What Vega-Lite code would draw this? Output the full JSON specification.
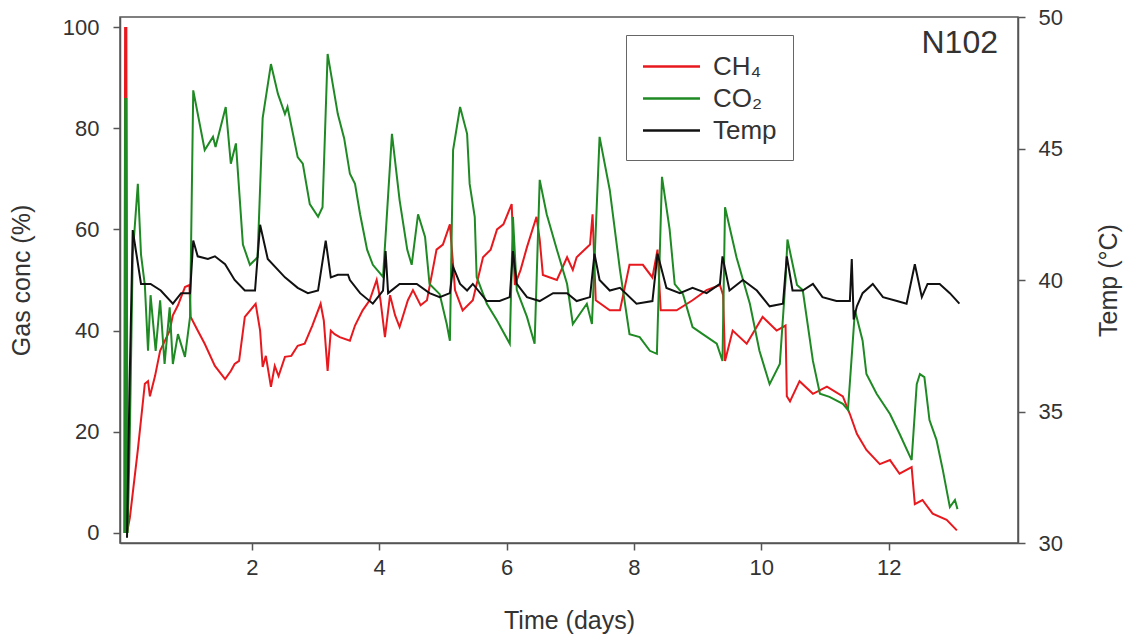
{
  "$schema": "https://vega.github.io/schema/vega-lite/v6.json",
  "width": 898,
  "height": 526,
  "autosize": {"type": "none"},
  "padding": {"left": 120, "top": 17, "right": 113, "bottom": 94},
  "background": "white",
  "config": {
    "view": {"stroke": "#555", "strokeWidth": 1.5},
    "font": "Liberation Sans",
    "axis": {
      "domainColor": "#555", "domainWidth": 1.5, "tickColor": "#555", "tickWidth": 1.5, "tickSize": 7,
      "labelFont": "Liberation Sans", "labelFontSize": 22, "labelColor": "#333",
      "titleFont": "Liberation Sans", "titleFontSize": 25, "titleFontWeight": "normal", "titleColor": "#333",
      "grid": false
    }
  },
  "title": {"text": "N102", "anchor": "end", "frame": "group", "orient": "top", "offset": -54, "dx": -20, "fontSize": 32, "fontWeight": "normal", "color": "#333", "font": "Liberation Sans"},
  "datasets": {
    "gas": [
      {"t":0.00,"s":"CH₄","v":0},{"t":0.01,"s":"CH₄","v":100},{"t":0.02,"s":"CH₄","v":2},{"t":0.03,"s":"CH₄","v":100},{"t":0.04,"s":"CH₄","v":0},
      {"t":0.085,"s":"CH₄","v":3},{"t":0.21,"s":"CH₄","v":16.4},{"t":0.32,"s":"CH₄","v":29.5},{"t":0.37,"s":"CH₄","v":30},{"t":0.40,"s":"CH₄","v":27},
      {"t":0.48,"s":"CH₄","v":31},{"t":0.56,"s":"CH₄","v":36},{"t":0.71,"s":"CH₄","v":40},{"t":0.76,"s":"CH₄","v":43},{"t":0.84,"s":"CH₄","v":45},
      {"t":0.95,"s":"CH₄","v":48.6},{"t":1.02,"s":"CH₄","v":49},{"t":1.04,"s":"CH₄","v":42.7},{"t":1.15,"s":"CH₄","v":40},{"t":1.26,"s":"CH₄","v":37.4},
      {"t":1.42,"s":"CH₄","v":33},{"t":1.58,"s":"CH₄","v":30.4},{"t":1.67,"s":"CH₄","v":32},{"t":1.73,"s":"CH₄","v":33.4},{"t":1.80,"s":"CH₄","v":34},
      {"t":1.89,"s":"CH₄","v":42.7},{"t":2.06,"s":"CH₄","v":45.3},{"t":2.13,"s":"CH₄","v":40},{"t":2.17,"s":"CH₄","v":32.8},{"t":2.22,"s":"CH₄","v":35},
      {"t":2.30,"s":"CH₄","v":28.9},{"t":2.36,"s":"CH₄","v":33},{"t":2.42,"s":"CH₄","v":31},{"t":2.52,"s":"CH₄","v":34.8},{"t":2.62,"s":"CH₄","v":35},
      {"t":2.72,"s":"CH₄","v":37},{"t":2.83,"s":"CH₄","v":37.4},{"t":2.95,"s":"CH₄","v":41},{"t":3.08,"s":"CH₄","v":45.3},{"t":3.13,"s":"CH₄","v":42},
      {"t":3.19,"s":"CH₄","v":32},{"t":3.24,"s":"CH₄","v":40},{"t":3.30,"s":"CH₄","v":39.3},{"t":3.38,"s":"CH₄","v":38.7},{"t":3.54,"s":"CH₄","v":38},
      {"t":3.62,"s":"CH₄","v":41},{"t":3.74,"s":"CH₄","v":44},{"t":3.85,"s":"CH₄","v":46},{"t":3.96,"s":"CH₄","v":50},{"t":4.02,"s":"CH₄","v":46},
      {"t":4.09,"s":"CH₄","v":38.7},{"t":4.17,"s":"CH₄","v":47},{"t":4.25,"s":"CH₄","v":43},{"t":4.32,"s":"CH₄","v":40.7},{"t":4.45,"s":"CH₄","v":46},
      {"t":4.53,"s":"CH₄","v":48},{"t":4.65,"s":"CH₄","v":45},{"t":4.75,"s":"CH₄","v":46},{"t":4.90,"s":"CH₄","v":56},{"t":5.00,"s":"CH₄","v":57},
      {"t":5.11,"s":"CH₄","v":61},{"t":5.16,"s":"CH₄","v":53},{"t":5.19,"s":"CH₄","v":48},{"t":5.31,"s":"CH₄","v":44},{"t":5.47,"s":"CH₄","v":46},
      {"t":5.63,"s":"CH₄","v":54.5},{"t":5.75,"s":"CH₄","v":56},{"t":5.85,"s":"CH₄","v":60},{"t":5.95,"s":"CH₄","v":61},{"t":6.08,"s":"CH₄","v":65},
      {"t":6.11,"s":"CH₄","v":55},{"t":6.13,"s":"CH₄","v":49},{"t":6.22,"s":"CH₄","v":52},{"t":6.32,"s":"CH₄","v":56.5},{"t":6.47,"s":"CH₄","v":62.5},
      {"t":6.52,"s":"CH₄","v":58},{"t":6.57,"s":"CH₄","v":51},{"t":6.79,"s":"CH₄","v":50},{"t":6.95,"s":"CH₄","v":54.5},{"t":7.04,"s":"CH₄","v":52},
      {"t":7.10,"s":"CH₄","v":54.5},{"t":7.31,"s":"CH₄","v":57},{"t":7.35,"s":"CH₄","v":63},{"t":7.40,"s":"CH₄","v":46},{"t":7.62,"s":"CH₄","v":44},
      {"t":7.78,"s":"CH₄","v":44},{"t":7.93,"s":"CH₄","v":53},{"t":8.14,"s":"CH₄","v":53},{"t":8.29,"s":"CH₄","v":50.5},{"t":8.37,"s":"CH₄","v":56},
      {"t":8.42,"s":"CH₄","v":44},{"t":8.67,"s":"CH₄","v":44},{"t":8.92,"s":"CH₄","v":46},{"t":9.14,"s":"CH₄","v":48},{"t":9.35,"s":"CH₄","v":49},
      {"t":9.40,"s":"CH₄","v":47},{"t":9.43,"s":"CH₄","v":34},{"t":9.55,"s":"CH₄","v":40},{"t":9.77,"s":"CH₄","v":37.4},{"t":10.02,"s":"CH₄","v":42.7},
      {"t":10.24,"s":"CH₄","v":40},{"t":10.38,"s":"CH₄","v":41},{"t":10.40,"s":"CH₄","v":27},{"t":10.45,"s":"CH₄","v":26},{"t":10.60,"s":"CH₄","v":30},
      {"t":10.81,"s":"CH₄","v":27.5},{"t":11.03,"s":"CH₄","v":28.9},{"t":11.28,"s":"CH₄","v":27},{"t":11.39,"s":"CH₄","v":23.5},{"t":11.50,"s":"CH₄","v":19.6},
      {"t":11.65,"s":"CH₄","v":16.4},{"t":11.86,"s":"CH₄","v":13.6},{"t":12.02,"s":"CH₄","v":14.4},{"t":12.17,"s":"CH₄","v":11.7},{"t":12.36,"s":"CH₄","v":13},
      {"t":12.41,"s":"CH₄","v":5.7},{"t":12.53,"s":"CH₄","v":6.5},{"t":12.69,"s":"CH₄","v":3.8},{"t":12.91,"s":"CH₄","v":2.6},{"t":13.07,"s":"CH₄","v":0.5},

      {"t":0.00,"s":"CO₂","v":0},{"t":0.01,"s":"CO₂","v":86},{"t":0.02,"s":"CO₂","v":0},{"t":0.03,"s":"CO₂","v":86},{"t":0.05,"s":"CO₂","v":0},
      {"t":0.085,"s":"CO₂","v":20},{"t":0.13,"s":"CO₂","v":55},{"t":0.21,"s":"CO₂","v":69},{"t":0.26,"s":"CO₂","v":55},{"t":0.32,"s":"CO₂","v":49},
      {"t":0.37,"s":"CO₂","v":36},{"t":0.41,"s":"CO₂","v":47},{"t":0.49,"s":"CO₂","v":36},{"t":0.56,"s":"CO₂","v":46},{"t":0.63,"s":"CO₂","v":33.4},
      {"t":0.71,"s":"CO₂","v":44.6},{"t":0.76,"s":"CO₂","v":33.4},{"t":0.84,"s":"CO₂","v":39.3},{"t":0.95,"s":"CO₂","v":34.8},{"t":1.03,"s":"CO₂","v":42.7},
      {"t":1.08,"s":"CO₂","v":87.5},{"t":1.26,"s":"CO₂","v":75.7},{"t":1.39,"s":"CO₂","v":78.3},{"t":1.43,"s":"CO₂","v":76.3},{"t":1.59,"s":"CO₂","v":84.2},
      {"t":1.67,"s":"CO₂","v":73},{"t":1.75,"s":"CO₂","v":77},{"t":1.86,"s":"CO₂","v":57},{"t":1.97,"s":"CO₂","v":53},{"t":2.09,"s":"CO₂","v":54.5},
      {"t":2.17,"s":"CO₂","v":82},{"t":2.30,"s":"CO₂","v":92.7},{"t":2.41,"s":"CO₂","v":86.8},{"t":2.52,"s":"CO₂","v":82.8},{"t":2.56,"s":"CO₂","v":84.2},
      {"t":2.72,"s":"CO₂","v":74.3},{"t":2.80,"s":"CO₂","v":73},{"t":2.91,"s":"CO₂","v":65},{"t":3.04,"s":"CO₂","v":62.5},{"t":3.11,"s":"CO₂","v":64.4},
      {"t":3.19,"s":"CO₂","v":94.7},{"t":3.35,"s":"CO₂","v":82.8},{"t":3.45,"s":"CO₂","v":78},{"t":3.54,"s":"CO₂","v":71},{"t":3.62,"s":"CO₂","v":69},
      {"t":3.70,"s":"CO₂","v":63},{"t":3.81,"s":"CO₂","v":56},{"t":3.90,"s":"CO₂","v":53},{"t":4.06,"s":"CO₂","v":50.6},{"t":4.20,"s":"CO₂","v":78.9},
      {"t":4.32,"s":"CO₂","v":65.8},{"t":4.44,"s":"CO₂","v":56},{"t":4.51,"s":"CO₂","v":53},{"t":4.61,"s":"CO₂","v":63},{"t":4.72,"s":"CO₂","v":58.5},
      {"t":4.79,"s":"CO₂","v":49.2},{"t":4.95,"s":"CO₂","v":47.2},{"t":5.06,"s":"CO₂","v":41.3},{"t":5.11,"s":"CO₂","v":38},{"t":5.16,"s":"CO₂","v":75.7},
      {"t":5.27,"s":"CO₂","v":84.2},{"t":5.38,"s":"CO₂","v":78.9},{"t":5.42,"s":"CO₂","v":69},{"t":5.50,"s":"CO₂","v":62.5},{"t":5.53,"s":"CO₂","v":50.6},
      {"t":5.69,"s":"CO₂","v":45.3},{"t":5.85,"s":"CO₂","v":42},{"t":6.05,"s":"CO₂","v":37.4},{"t":6.10,"s":"CO₂","v":62.5},{"t":6.16,"s":"CO₂","v":48},
      {"t":6.32,"s":"CO₂","v":42.7},{"t":6.44,"s":"CO₂","v":37.4},{"t":6.52,"s":"CO₂","v":69.8},{"t":6.63,"s":"CO₂","v":63},{"t":6.79,"s":"CO₂","v":56},
      {"t":6.95,"s":"CO₂","v":49.2},{"t":7.04,"s":"CO₂","v":41.3},{"t":7.26,"s":"CO₂","v":45.3},{"t":7.34,"s":"CO₂","v":41.3},{"t":7.46,"s":"CO₂","v":78.3},
      {"t":7.62,"s":"CO₂","v":67.8},{"t":7.78,"s":"CO₂","v":52},{"t":7.93,"s":"CO₂","v":39.3},{"t":8.09,"s":"CO₂","v":38.7},{"t":8.25,"s":"CO₂","v":36},
      {"t":8.36,"s":"CO₂","v":35.4},{"t":8.44,"s":"CO₂","v":70.4},{"t":8.56,"s":"CO₂","v":60},{"t":8.64,"s":"CO₂","v":49.2},{"t":8.77,"s":"CO₂","v":47.2},
      {"t":8.92,"s":"CO₂","v":40.7},{"t":9.08,"s":"CO₂","v":39.3},{"t":9.30,"s":"CO₂","v":37.4},{"t":9.39,"s":"CO₂","v":34},{"t":9.43,"s":"CO₂","v":64.4},
      {"t":9.61,"s":"CO₂","v":54.5},{"t":9.82,"s":"CO₂","v":45.3},{"t":9.97,"s":"CO₂","v":36},{"t":10.13,"s":"CO₂","v":29.4},{"t":10.29,"s":"CO₂","v":33.4},
      {"t":10.38,"s":"CO₂","v":50},{"t":10.41,"s":"CO₂","v":58},{"t":10.56,"s":"CO₂","v":49},{"t":10.65,"s":"CO₂","v":48},{"t":10.81,"s":"CO₂","v":34},
      {"t":10.92,"s":"CO₂","v":27.5},{"t":11.07,"s":"CO₂","v":26.9},{"t":11.28,"s":"CO₂","v":25.5},{"t":11.36,"s":"CO₂","v":24.3},{"t":11.47,"s":"CO₂","v":44},
      {"t":11.59,"s":"CO₂","v":38},{"t":11.65,"s":"CO₂","v":31.4},{"t":11.81,"s":"CO₂","v":27.5},{"t":12.02,"s":"CO₂","v":23.5},{"t":12.17,"s":"CO₂","v":19.6},
      {"t":12.36,"s":"CO₂","v":14.4},{"t":12.44,"s":"CO₂","v":29.4},{"t":12.49,"s":"CO₂","v":31.4},{"t":12.56,"s":"CO₂","v":30.8},{"t":12.64,"s":"CO₂","v":22.3},
      {"t":12.75,"s":"CO₂","v":18.4},{"t":12.85,"s":"CO₂","v":12.4},{"t":12.96,"s":"CO₂","v":5.1},{"t":13.04,"s":"CO₂","v":6.5},{"t":13.08,"s":"CO₂","v":4.7}
    ],
    "temp": [
      {"t":0.04,"s":"Temp","v":30.2},{"t":0.08,"s":"Temp","v":36},{"t":0.13,"s":"Temp","v":41.9},{"t":0.26,"s":"Temp","v":39.85},{"t":0.41,"s":"Temp","v":39.85},
      {"t":0.57,"s":"Temp","v":39.6},{"t":0.76,"s":"Temp","v":39.1},{"t":0.89,"s":"Temp","v":39.5},{"t":1.03,"s":"Temp","v":39.5},{"t":1.08,"s":"Temp","v":41.5},
      {"t":1.15,"s":"Temp","v":40.9},{"t":1.31,"s":"Temp","v":40.8},{"t":1.42,"s":"Temp","v":40.9},{"t":1.58,"s":"Temp","v":40.6},{"t":1.73,"s":"Temp","v":40},
      {"t":1.89,"s":"Temp","v":39.6},{"t":2.05,"s":"Temp","v":39.6},{"t":2.13,"s":"Temp","v":42.1},{"t":2.25,"s":"Temp","v":40.8},{"t":2.52,"s":"Temp","v":40.1},
      {"t":2.72,"s":"Temp","v":39.7},{"t":2.88,"s":"Temp","v":39.5},{"t":3.04,"s":"Temp","v":39.6},{"t":3.16,"s":"Temp","v":41.5},{"t":3.24,"s":"Temp","v":40.1},
      {"t":3.35,"s":"Temp","v":40.2},{"t":3.51,"s":"Temp","v":40.2},{"t":3.54,"s":"Temp","v":40},{"t":3.70,"s":"Temp","v":39.5},{"t":3.90,"s":"Temp","v":39.1},
      {"t":4.06,"s":"Temp","v":39.6},{"t":4.10,"s":"Temp","v":41.1},{"t":4.14,"s":"Temp","v":39.5},{"t":4.32,"s":"Temp","v":39.85},{"t":4.59,"s":"Temp","v":39.85},
      {"t":4.79,"s":"Temp","v":39.5},{"t":4.95,"s":"Temp","v":39.35},{"t":5.11,"s":"Temp","v":39.5},{"t":5.16,"s":"Temp","v":40.5},{"t":5.27,"s":"Temp","v":39.85},
      {"t":5.38,"s":"Temp","v":39.6},{"t":5.47,"s":"Temp","v":39.85},{"t":5.69,"s":"Temp","v":39.2},{"t":5.89,"s":"Temp","v":39.2},{"t":6.05,"s":"Temp","v":39.35},
      {"t":6.10,"s":"Temp","v":41.1},{"t":6.16,"s":"Temp","v":39.85},{"t":6.32,"s":"Temp","v":39.35},{"t":6.52,"s":"Temp","v":39.2},{"t":6.73,"s":"Temp","v":39.5},
      {"t":6.95,"s":"Temp","v":39.5},{"t":7.10,"s":"Temp","v":39.2},{"t":7.31,"s":"Temp","v":39.35},{"t":7.38,"s":"Temp","v":41},{"t":7.46,"s":"Temp","v":40},
      {"t":7.62,"s":"Temp","v":39.6},{"t":7.78,"s":"Temp","v":39.7},{"t":8.04,"s":"Temp","v":39.1},{"t":8.29,"s":"Temp","v":39.2},{"t":8.37,"s":"Temp","v":41},
      {"t":8.51,"s":"Temp","v":39.7},{"t":8.72,"s":"Temp","v":39.5},{"t":8.92,"s":"Temp","v":39.7},{"t":9.14,"s":"Temp","v":39.5},{"t":9.35,"s":"Temp","v":39.85},
      {"t":9.39,"s":"Temp","v":40.9},{"t":9.50,"s":"Temp","v":39.6},{"t":9.71,"s":"Temp","v":40},{"t":9.93,"s":"Temp","v":39.6},{"t":10.13,"s":"Temp","v":39},
      {"t":10.34,"s":"Temp","v":39.1},{"t":10.40,"s":"Temp","v":40.9},{"t":10.49,"s":"Temp","v":39.6},{"t":10.65,"s":"Temp","v":39.6},{"t":10.81,"s":"Temp","v":39.85},
      {"t":10.96,"s":"Temp","v":39.35},{"t":11.18,"s":"Temp","v":39.2},{"t":11.39,"s":"Temp","v":39.2},{"t":11.42,"s":"Temp","v":40.8},{"t":11.45,"s":"Temp","v":38.5},
      {"t":11.50,"s":"Temp","v":39},{"t":11.59,"s":"Temp","v":39.5},{"t":11.75,"s":"Temp","v":39.85},{"t":11.91,"s":"Temp","v":39.35},{"t":12.13,"s":"Temp","v":39.2},
      {"t":12.28,"s":"Temp","v":39.1},{"t":12.41,"s":"Temp","v":40.6},{"t":12.52,"s":"Temp","v":39.35},{"t":12.61,"s":"Temp","v":39.85},{"t":12.80,"s":"Temp","v":39.85},
      {"t":12.96,"s":"Temp","v":39.5},{"t":13.11,"s":"Temp","v":39.1}
    ]
  },
  "layer": [
    {
      "data": {"name": "gas"},
      "mark": {"type": "line", "strokeWidth": 2},
      "encoding": {
        "x": {"field": "t", "type": "quantitative", "scale": {"domain": [-0.07, 14.03], "nice": false, "zero": false},
              "axis": {"values": [2,4,6,8,10,12], "format": "d", "title": "Time (days)", "labelPadding": 7, "titlePadding": 30}},
        "y": {"field": "v", "type": "quantitative", "scale": {"domain": [-2, 102], "nice": false, "zero": false},
              "axis": {"values": [0,20,40,60,80,100], "title": "Gas conc (%)", "orient": "left", "labelPadding": 14, "titlePadding": 28}},
        "color": {"field": "s", "type": "nominal",
                  "scale": {"domain": ["CH₄", "CO₂", "Temp"], "range": ["#e8191e", "#1f8a24", "#111111"]},
                  "legend": {"orient": "none", "legendX": 506, "legendY": 18, "title": null, "symbolType": "M-2,0H2", "symbolSize": 812, "symbolStrokeWidth": 2.5, "symbolOffset": 14,
                             "labelFontSize": 26, "labelFont": "Liberation Sans", "labelColor": "#333", "labelOffset": 26, "rowPadding": 3,
                             "padding": 16, "strokeColor": "#666", "fillColor": "white"}}
      }
    },
    {
      "data": {"name": "temp"},
      "mark": {"type": "line", "strokeWidth": 2},
      "encoding": {
        "x": {"field": "t", "type": "quantitative"},
        "y": {"field": "v", "type": "quantitative", "scale": {"domain": [30, 50], "nice": false, "zero": false},
              "axis": {"values": [30,35,40,45,50], "title": "Temp (°C)", "orient": "right", "labelPadding": 13, "titlePadding": 59, "titleAngle": 270}},
        "color": {"field": "s", "type": "nominal",
                  "legend": {"orient": "none", "legendX": 506, "legendY": 18, "title": null, "symbolType": "M-2,0H2", "symbolSize": 812, "symbolStrokeWidth": 2.5, "symbolOffset": 14,
                             "labelFontSize": 26, "labelFont": "Liberation Sans", "labelColor": "#333", "labelOffset": 26, "rowPadding": 3,
                             "padding": 16, "strokeColor": "#666", "fillColor": "white"}}
      }
    }
  ],
  "resolve": {"scale": {"y": "independent"}}
}
